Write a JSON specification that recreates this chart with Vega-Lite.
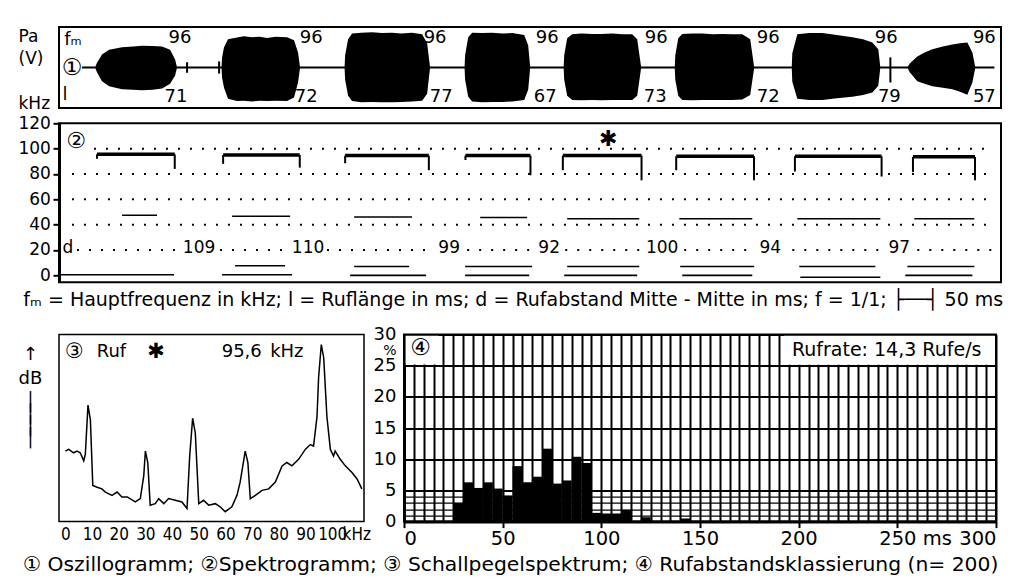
{
  "$schema": "https://vega.github.io/schema/vega-lite/v6.json",
  "background": "white",
  "padding": {"left": 16, "top": 26, "right": 5, "bottom": 5},
  "config": {
    "font": "DejaVu Sans",
    "view": {"stroke": "black", "strokeWidth": 2},
    "axis": {"labelColor": "black", "titleColor": "black", "domainColor": "black", "tickColor": "black", "titleFontWeight": "normal", "labelOverlap": false, "grid": false, "labelFont": "DejaVu Sans", "titleFont": "DejaVu Sans"},
    "title": {"color": "black", "fontWeight": "normal", "subtitleColor": "black", "font": "DejaVu Sans"},
    "text": {"color": "black", "font": "DejaVu Sans"}
  },
  "title": {"text": "① Oszillogramm; ②Spektrogramm; ③ Schallpegelspektrum; ④ Rufabstandsklassierung (n= 200)", "orient": "bottom", "anchor": "start", "fontSize": 20.3, "offset": 6, "dx": 6},
  "spacing": 0.3,
  "datasets": {
    "osc": [
      {"call": 1, "t": 31.6, "a": 0, "a2": 0}, {"call": 1, "t": 33.3, "a": 0.12, "a2": -0.12}, {"call": 1, "t": 35.1, "a": 0.2, "a2": -0.21}, {"call": 1, "t": 37.7, "a": 0.32, "a2": -0.34}, {"call": 1, "t": 43.9, "a": 0.44, "a2": -0.46}, {"call": 1, "t": 55.3, "a": 0.5, "a2": -0.54}, {"call": 1, "t": 65, "a": 0.52, "a2": -0.55}, {"call": 1, "t": 72.8, "a": 0.54, "a2": -0.56}, {"call": 1, "t": 82, "a": 0.53, "a2": -0.55}, {"call": 1, "t": 90.4, "a": 0.52, "a2": -0.52}, {"call": 1, "t": 97.4, "a": 0.44, "a2": -0.4}, {"call": 1, "t": 101.8, "a": 0.2, "a2": -0.2}, {"call": 1, "t": 103.5, "a": 0, "a2": 0},
      {"call": 2, "t": 142.5, "a": 0, "a2": 0}, {"call": 2, "t": 143, "a": 0.25, "a2": -0.25}, {"call": 2, "t": 144.7, "a": 0.5, "a2": -0.5}, {"call": 2, "t": 148.2, "a": 0.7, "a2": -0.77}, {"call": 2, "t": 156.1, "a": 0.74, "a2": -0.83}, {"call": 2, "t": 162, "a": 0.77, "a2": -0.82}, {"call": 2, "t": 169.3, "a": 0.75, "a2": -0.84}, {"call": 2, "t": 176, "a": 0.76, "a2": -0.82}, {"call": 2, "t": 182.5, "a": 0.73, "a2": -0.83}, {"call": 2, "t": 190, "a": 0.76, "a2": -0.82}, {"call": 2, "t": 200, "a": 0.75, "a2": -0.83}, {"call": 2, "t": 206.1, "a": 0.67, "a2": -0.74}, {"call": 2, "t": 209.6, "a": 0.37, "a2": -0.37}, {"call": 2, "t": 211.4, "a": 0, "a2": 0},
      {"call": 3, "t": 250.4, "a": 0, "a2": 0}, {"call": 3, "t": 250.9, "a": 0.3, "a2": -0.3}, {"call": 3, "t": 253.5, "a": 0.7, "a2": -0.7}, {"call": 3, "t": 257, "a": 0.84, "a2": -0.83}, {"call": 3, "t": 265, "a": 0.86, "a2": -0.86}, {"call": 3, "t": 274.6, "a": 0.87, "a2": -0.85}, {"call": 3, "t": 283, "a": 0.85, "a2": -0.86}, {"call": 3, "t": 292.1, "a": 0.86, "a2": -0.86}, {"call": 3, "t": 300, "a": 0.84, "a2": -0.85}, {"call": 3, "t": 309.6, "a": 0.86, "a2": -0.84}, {"call": 3, "t": 318.4, "a": 0.82, "a2": -0.82}, {"call": 3, "t": 322.8, "a": 0.6, "a2": -0.65}, {"call": 3, "t": 325.4, "a": 0, "a2": 0},
      {"call": 4, "t": 355.6, "a": 0, "a2": 0}, {"call": 4, "t": 356.1, "a": 0.3, "a2": -0.3}, {"call": 4, "t": 358.8, "a": 0.75, "a2": -0.72}, {"call": 4, "t": 362.3, "a": 0.86, "a2": -0.84}, {"call": 4, "t": 371, "a": 0.85, "a2": -0.86}, {"call": 4, "t": 379.8, "a": 0.86, "a2": -0.85}, {"call": 4, "t": 389, "a": 0.84, "a2": -0.85}, {"call": 4, "t": 397.4, "a": 0.85, "a2": -0.84}, {"call": 4, "t": 407.9, "a": 0.8, "a2": -0.8}, {"call": 4, "t": 411.4, "a": 0.55, "a2": -0.55}, {"call": 4, "t": 413.2, "a": 0, "a2": 0},
      {"call": 5, "t": 442.5, "a": 0, "a2": 0}, {"call": 5, "t": 443, "a": 0.3, "a2": -0.3}, {"call": 5, "t": 445.6, "a": 0.72, "a2": -0.7}, {"call": 5, "t": 450, "a": 0.82, "a2": -0.8}, {"call": 5, "t": 458, "a": 0.84, "a2": -0.81}, {"call": 5, "t": 467.5, "a": 0.83, "a2": -0.8}, {"call": 5, "t": 476, "a": 0.83, "a2": -0.81}, {"call": 5, "t": 485.1, "a": 0.84, "a2": -0.8}, {"call": 5, "t": 494, "a": 0.82, "a2": -0.8}, {"call": 5, "t": 502.6, "a": 0.82, "a2": -0.8}, {"call": 5, "t": 507, "a": 0.7, "a2": -0.7}, {"call": 5, "t": 510.5, "a": 0, "a2": 0},
      {"call": 6, "t": 539.9, "a": 0, "a2": 0}, {"call": 6, "t": 540.4, "a": 0.3, "a2": -0.3}, {"call": 6, "t": 543, "a": 0.72, "a2": -0.7}, {"call": 6, "t": 546.5, "a": 0.83, "a2": -0.8}, {"call": 6, "t": 555, "a": 0.84, "a2": -0.81}, {"call": 6, "t": 564, "a": 0.84, "a2": -0.8}, {"call": 6, "t": 573, "a": 0.82, "a2": -0.8}, {"call": 6, "t": 581.6, "a": 0.83, "a2": -0.8}, {"call": 6, "t": 590, "a": 0.82, "a2": -0.8}, {"call": 6, "t": 599.1, "a": 0.82, "a2": -0.79}, {"call": 6, "t": 606.1, "a": 0.7, "a2": -0.68}, {"call": 6, "t": 609.6, "a": 0, "a2": 0},
      {"call": 7, "t": 642.5, "a": 0, "a2": 0}, {"call": 7, "t": 643, "a": 0.35, "a2": -0.35}, {"call": 7, "t": 647.4, "a": 0.82, "a2": -0.77}, {"call": 7, "t": 658, "a": 0.85, "a2": -0.8}, {"call": 7, "t": 669.3, "a": 0.85, "a2": -0.8}, {"call": 7, "t": 682, "a": 0.8, "a2": -0.76}, {"call": 7, "t": 695.6, "a": 0.75, "a2": -0.72}, {"call": 7, "t": 705, "a": 0.7, "a2": -0.68}, {"call": 7, "t": 713.2, "a": 0.62, "a2": -0.62}, {"call": 7, "t": 718.4, "a": 0.45, "a2": -0.45}, {"call": 7, "t": 720.2, "a": 0, "a2": 0},
      {"call": 8, "t": 743.9, "a": 0, "a2": 0}, {"call": 8, "t": 746, "a": 0.1, "a2": -0.12}, {"call": 8, "t": 752.6, "a": 0.27, "a2": -0.34}, {"call": 8, "t": 759, "a": 0.37, "a2": -0.4}, {"call": 8, "t": 765.8, "a": 0.45, "a2": -0.46}, {"call": 8, "t": 775, "a": 0.52, "a2": -0.5}, {"call": 8, "t": 783.3, "a": 0.57, "a2": -0.54}, {"call": 8, "t": 790, "a": 0.6, "a2": -0.6}, {"call": 8, "t": 796.5, "a": 0.62, "a2": -0.67}, {"call": 8, "t": 800.9, "a": 0.37, "a2": -0.37}, {"call": 8, "t": 803.5, "a": 0, "a2": 0}
    ],
    "osc_base": [{"t": 20.2, "t2": 820.2, "a": 0}],
    "osc_blips": [{"t": 112.3, "a": 0.13, "a2": -0.13}, {"t": 140.4, "a": 0.15, "a2": -0.15}, {"t": 729, "a": 0.25, "a2": -0.37}],
    "osc_text": [
      {"t": 12.3, "a": 0.68, "text": "fₘ", "kind": "nr"}, {"t": 5.3, "a": -0.68, "text": "l", "kind": "nr"}, {"t": 11.4, "a": 0, "text": "①", "kind": "sym"},
      {"t": 106.1, "a": 0.73, "text": "96", "kind": "nr"}, {"t": 221.1, "a": 0.73, "text": "96", "kind": "nr"}, {"t": 329.8, "a": 0.73, "text": "96", "kind": "nr"}, {"t": 428.1, "a": 0.73, "text": "96", "kind": "nr"}, {"t": 523.7, "a": 0.73, "text": "96", "kind": "nr"}, {"t": 621.9, "a": 0.73, "text": "96", "kind": "nr"}, {"t": 725.4, "a": 0.73, "text": "96", "kind": "nr"}, {"t": 811.4, "a": 0.73, "text": "96", "kind": "nr"},
      {"t": 102.6, "a": -0.73, "text": "71", "kind": "nr"}, {"t": 216.7, "a": -0.73, "text": "72", "kind": "nr"}, {"t": 335.1, "a": -0.73, "text": "77", "kind": "nr"}, {"t": 426.3, "a": -0.73, "text": "67", "kind": "nr"}, {"t": 522.8, "a": -0.73, "text": "73", "kind": "nr"}, {"t": 621.9, "a": -0.73, "text": "72", "kind": "nr"}, {"t": 728.1, "a": -0.73, "text": "79", "kind": "nr"}, {"t": 811.4, "a": -0.73, "text": "57", "kind": "nr"}
    ],
    "spec_dots": [
      {"f": 100, "t": 30.7, "t2": 818.4}, {"f": 80, "t": 11.4, "t2": 818.4}, {"f": 60, "t": 11.4, "t2": 818.4}, {"f": 40, "t": 11.4, "t2": 818.4},
      {"f": 20, "t": 15.8, "t2": 103.5}, {"f": 20, "t": 141.2, "t2": 202.6}, {"f": 20, "t": 235, "t2": 325.4}, {"f": 20, "t": 357.9, "t2": 414.9}, {"f": 20, "t": 443.9, "t2": 511.4}, {"f": 20, "t": 548.2, "t2": 607.9}, {"f": 20, "t": 643, "t2": 720.2}, {"f": 20, "t": 752.6, "t2": 818.4}
    ],
    "spec_segs": [
      {"call": 1, "part": "Grundton", "t": 33.3, "t2": 101.5, "f": 95.5, "f2": 95.5}, {"call": 1, "part": "Haken", "t": 33.3, "t2": 33.3, "f": 95.5, "f2": 92}, {"call": 1, "part": "Haken", "t": 101.5, "t2": 101.5, "f": 95.5, "f2": 84}, {"call": 1, "part": "Oberton", "t": 55.3, "t2": 86, "f": 47.4, "f2": 47.4}, {"call": 1, "part": "tief", "t": 0, "t2": 100.9, "f": 0.5, "f2": 0.5},
      {"call": 2, "part": "Grundton", "t": 143.9, "t2": 211.1, "f": 95, "f2": 95}, {"call": 2, "part": "Haken", "t": 143.9, "t2": 143.9, "f": 95, "f2": 88}, {"call": 2, "part": "Haken", "t": 211.1, "t2": 211.1, "f": 95, "f2": 85}, {"call": 2, "part": "Oberton", "t": 151.8, "t2": 202.6, "f": 46.6, "f2": 46.6}, {"call": 2, "part": "tief", "t": 154.4, "t2": 198.2, "f": 7.6, "f2": 7.6}, {"call": 2, "part": "tief", "t": 143, "t2": 204.4, "f": 0.5, "f2": 0.5},
      {"call": 3, "part": "Grundton", "t": 250.9, "t2": 324.3, "f": 94.5, "f2": 94.5}, {"call": 3, "part": "Haken", "t": 250.9, "t2": 250.9, "f": 94.5, "f2": 88.5}, {"call": 3, "part": "Haken", "t": 324.3, "t2": 324.3, "f": 94.5, "f2": 83}, {"call": 3, "part": "Oberton", "t": 258.8, "t2": 309.6, "f": 46, "f2": 46}, {"call": 3, "part": "tief", "t": 258.8, "t2": 307, "f": 7, "f2": 7}, {"call": 3, "part": "tief", "t": 255.3, "t2": 321.9, "f": 0, "f2": 0},
      {"call": 4, "part": "Grundton", "t": 356.4, "t2": 413.4, "f": 94.5, "f2": 94.5}, {"call": 4, "part": "Haken", "t": 356.4, "t2": 356.4, "f": 94.5, "f2": 91}, {"call": 4, "part": "Haken", "t": 413.4, "t2": 413.4, "f": 94.5, "f2": 79}, {"call": 4, "part": "Oberton", "t": 369.3, "t2": 410.5, "f": 45.7, "f2": 45.7}, {"call": 4, "part": "tief", "t": 356.1, "t2": 414.9, "f": 7, "f2": 7}, {"call": 4, "part": "tief", "t": 356.1, "t2": 412.3, "f": 0, "f2": 0},
      {"call": 5, "part": "Grundton", "t": 441.8, "t2": 510.8, "f": 94.5, "f2": 94.5}, {"call": 5, "part": "Haken", "t": 441.8, "t2": 441.8, "f": 94.5, "f2": 83}, {"call": 5, "part": "Haken", "t": 510.8, "t2": 510.8, "f": 94.5, "f2": 75}, {"call": 5, "part": "Oberton", "t": 445.6, "t2": 508.8, "f": 44.7, "f2": 44.7}, {"call": 5, "part": "tief", "t": 445.6, "t2": 508.8, "f": 7, "f2": 7}, {"call": 5, "part": "tief", "t": 443, "t2": 507, "f": 0, "f2": 0},
      {"call": 6, "part": "Grundton", "t": 541.2, "t2": 609.4, "f": 94, "f2": 94}, {"call": 6, "part": "Haken", "t": 541.2, "t2": 541.2, "f": 94, "f2": 83}, {"call": 6, "part": "Haken", "t": 609.4, "t2": 609.4, "f": 94, "f2": 75}, {"call": 6, "part": "Oberton", "t": 543.9, "t2": 607.9, "f": 44.7, "f2": 44.7}, {"call": 6, "part": "tief", "t": 544.7, "t2": 609.6, "f": 7, "f2": 7}, {"call": 6, "part": "tief", "t": 546.5, "t2": 607.9, "f": 0, "f2": 0},
      {"call": 7, "part": "Grundton", "t": 645.3, "t2": 721.3, "f": 94, "f2": 94}, {"call": 7, "part": "Haken", "t": 645.3, "t2": 645.3, "f": 94, "f2": 82}, {"call": 7, "part": "Haken", "t": 721.3, "t2": 721.3, "f": 94, "f2": 78}, {"call": 7, "part": "Oberton", "t": 647.4, "t2": 720.2, "f": 44.7, "f2": 44.7}, {"call": 7, "part": "tief", "t": 649.1, "t2": 715.8, "f": 7, "f2": 7}, {"call": 7, "part": "tief", "t": 650, "t2": 720.2, "f": -1.5, "f2": -1.5},
      {"call": 8, "part": "Grundton", "t": 748.8, "t2": 803.2, "f": 93.5, "f2": 93.5}, {"call": 8, "part": "Haken", "t": 748.8, "t2": 748.8, "f": 93.5, "f2": 81.5}, {"call": 8, "part": "Haken", "t": 803.2, "t2": 803.2, "f": 93.5, "f2": 75}, {"call": 8, "part": "Oberton", "t": 750, "t2": 802.6, "f": 44.7, "f2": 44.7}, {"call": 8, "part": "tief", "t": 743.9, "t2": 802.6, "f": 7, "f2": 7}, {"call": 8, "part": "tief", "t": 742.1, "t2": 800.9, "f": 0, "f2": 0}
    ],
    "spec_text": [
      {"t": 14.9, "f": 105.8, "text": "②", "kind": "sym"}, {"t": 481.6, "f": 107.3, "text": "✱", "kind": "sym"},
      {"t": 7.9, "f": 21.3, "text": "d", "kind": "nr"}, {"t": 122.8, "f": 21.3, "text": "109", "kind": "nr"}, {"t": 218.4, "f": 21.3, "text": "110", "kind": "nr"}, {"t": 342.1, "f": 21.3, "text": "99", "kind": "nr"}, {"t": 429.8, "f": 21.3, "text": "92", "kind": "nr"}, {"t": 528.9, "f": 21.3, "text": "100", "kind": "nr"}, {"t": 623.7, "f": 21.3, "text": "94", "kind": "nr"}, {"t": 736.8, "f": 21.3, "text": "97", "kind": "nr"}
    ],
    "spectrum": [
      {"f": 0, "db": 37.7}, {"f": 1.3, "db": 38.6}, {"f": 3.1, "db": 36.8}, {"f": 4.4, "db": 37.7}, {"f": 5.6, "db": 36.8}, {"f": 6.9, "db": 32.5}, {"f": 7.5, "db": 36}, {"f": 8.5, "db": 62.3}, {"f": 9.4, "db": 54.4}, {"f": 10.3, "db": 19.3}, {"f": 11.9, "db": 18.4}, {"f": 13.7, "db": 17.5}, {"f": 15, "db": 15.8}, {"f": 17.5, "db": 14}, {"f": 19.4, "db": 15.8}, {"f": 21.2, "db": 13.2}, {"f": 23.2, "db": 13.2}, {"f": 26.2, "db": 10.5}, {"f": 28.1, "db": 12.3}, {"f": 29.4, "db": 24.6}, {"f": 30, "db": 37.7}, {"f": 30.9, "db": 31.6}, {"f": 31.8, "db": 8.8}, {"f": 33.7, "db": 9.6}, {"f": 35, "db": 12.3}, {"f": 36.9, "db": 9.6}, {"f": 38.7, "db": 12.3}, {"f": 41.2, "db": 11.4}, {"f": 43.7, "db": 10.5}, {"f": 45.6, "db": 7}, {"f": 46.6, "db": 35.1}, {"f": 47.7, "db": 55.3}, {"f": 48.7, "db": 47.4}, {"f": 50, "db": 9.6}, {"f": 51.8, "db": 11.4}, {"f": 53.7, "db": 8.8}, {"f": 56.2, "db": 9.6}, {"f": 58, "db": 7.9}, {"f": 59.9, "db": 5.3}, {"f": 62.4, "db": 7.9}, {"f": 64.3, "db": 14}, {"f": 65.5, "db": 21.1}, {"f": 67.4, "db": 37.7}, {"f": 68.4, "db": 31.6}, {"f": 69.3, "db": 12.3}, {"f": 71.2, "db": 14}, {"f": 73.7, "db": 16.7}, {"f": 76.2, "db": 17.5}, {"f": 78.7, "db": 21.1}, {"f": 81.2, "db": 29.8}, {"f": 83, "db": 31.6}, {"f": 84.9, "db": 29.8}, {"f": 87.4, "db": 33.3}, {"f": 89.9, "db": 38.6}, {"f": 91.8, "db": 41.2}, {"f": 93, "db": 40.4}, {"f": 94.3, "db": 56.2}, {"f": 94.9, "db": 77.2}, {"f": 95.9, "db": 94.7}, {"f": 96.8, "db": 87.7}, {"f": 98, "db": 56.2}, {"f": 99.3, "db": 38.6}, {"f": 100.5, "db": 35.1}, {"f": 101.1, "db": 37.7}, {"f": 103, "db": 33.3}, {"f": 104.9, "db": 29.8}, {"f": 107.4, "db": 26.3}, {"f": 109.3, "db": 22.8}, {"f": 111.1, "db": 17.5}
    ],
    "spectrum_text": [
      {"f": 3.4, "db": 90.5, "text": "③", "kind": "sym"}, {"f": 17.3, "db": 90.5, "text": "Ruf", "kind": "nr"}, {"f": 34, "db": 90.5, "text": "✱", "kind": "sym"}, {"f": 66.1, "db": 90.5, "text": "95,6", "kind": "nr"}, {"f": 83, "db": 90.5, "text": "kHz", "kind": "nr"}
    ],
    "hist": [
      {"t": 25, "t2": 30, "p": 3.0}, {"t": 30, "t2": 35, "p": 6.3}, {"t": 35, "t2": 40, "p": 5.4}, {"t": 40, "t2": 45, "p": 6.3}, {"t": 45, "t2": 50, "p": 5.3}, {"t": 50, "t2": 55, "p": 4.2}, {"t": 55, "t2": 60, "p": 8.9}, {"t": 60, "t2": 65, "p": 6.3}, {"t": 65, "t2": 70, "p": 7.2}, {"t": 70, "t2": 75, "p": 11.7}, {"t": 75, "t2": 80, "p": 6.1}, {"t": 80, "t2": 85, "p": 6.6}, {"t": 85, "t2": 90, "p": 10.4}, {"t": 90, "t2": 95, "p": 9.4}, {"t": 95, "t2": 100, "p": 1.4}, {"t": 100, "t2": 105, "p": 1.3}, {"t": 105, "t2": 110, "p": 1.3}, {"t": 110, "t2": 115, "p": 1.9}, {"t": 120, "t2": 125, "p": 0.7}, {"t": 140, "t2": 145, "p": 0.5}
    ],
    "hist_boxes": [{"t": 0.8, "t2": 17.5, "p": 25.2, "p2": 29.8}, {"t": 192.5, "t2": 299.2, "p": 25.15, "p2": 29.8}],
    "hist_text": [{"t": 8.4, "p": 27.9, "text": "④", "kind": "sym"}, {"t": 244.6, "p": 27.5, "text": "Rufrate: 14,3 Rufe/s", "kind": "nr"}]
  },
  "vconcat": [
    {
      "width": 942, "height": 81,
      "encoding": {
        "x": {"field": "t", "type": "quantitative", "scale": {"domain": [0, 826]}, "axis": null},
        "y": {"field": "a", "type": "quantitative", "scale": {"domain": [-1, 1]}, "axis": {"title": ["Pa", "(V)", "⠀", "kHz"], "titleAngle": 0, "titleAlign": "left", "titleBaseline": "top", "titleX": -41, "titleY": 1, "titleLineHeight": 22.4, "titleFontSize": 17, "labels": false, "ticks": false, "domain": false}}
      },
      "layer": [
        {"data": {"name": "osc"}, "mark": {"type": "area", "color": "black"}, "encoding": {"y2": {"field": "a2"}, "detail": {"field": "call"}}},
        {"data": {"name": "osc_base"}, "mark": {"type": "rule", "strokeWidth": 2, "color": "black"}, "encoding": {"x2": {"field": "t2"}}},
        {"data": {"name": "osc_blips"}, "mark": {"type": "rule", "strokeWidth": 2, "color": "black"}, "encoding": {"y2": {"field": "a2"}}},
        {"data": {"name": "osc_text"}, "transform": [{"filter": "datum.kind == 'nr'"}], "mark": {"type": "text", "fontSize": 18}, "encoding": {"text": {"field": "text"}}},
        {"data": {"name": "osc_text"}, "transform": [{"filter": "datum.kind == 'sym'"}], "mark": {"type": "text", "fontSize": 23}, "encoding": {"text": {"field": "text"}}}
      ]
    },
    {
      "width": 942, "height": 159,
      "encoding": {
        "x": {"field": "t", "type": "quantitative", "scale": {"domain": [0, 826]}, "axis": null},
        "y": {"field": "f", "type": "quantitative", "scale": {"domain": [-5.5, 120]}, "axis": {"values": [0, 20, 40, 60, 80, 100, 120], "title": null, "labelFontSize": 17, "tickSize": 6, "tickWidth": 2, "domainWidth": 3, "labelPadding": 2.6}}
      },
      "layer": [
        {"data": {"name": "spec_dots"}, "mark": {"type": "rule", "strokeDash": [2, 10], "strokeWidth": 2, "color": "black"}, "encoding": {"x2": {"field": "t2"}}},
        {"data": {"name": "spec_segs"}, "transform": [{"filter": "datum.part == 'Grundton'"}], "mark": {"type": "rule", "strokeWidth": 3.5, "color": "black"}, "encoding": {"x2": {"field": "t2"}, "y2": {"field": "f2"}}},
        {"data": {"name": "spec_segs"}, "transform": [{"filter": "datum.part == 'Haken'"}], "mark": {"type": "rule", "strokeWidth": 2, "color": "black"}, "encoding": {"x2": {"field": "t2"}, "y2": {"field": "f2"}}},
        {"data": {"name": "spec_segs"}, "transform": [{"filter": "datum.part == 'Oberton' || datum.part == 'tief'"}], "mark": {"type": "rule", "strokeWidth": 1.6, "color": "black"}, "encoding": {"x2": {"field": "t2"}, "y2": {"field": "f2"}}},
        {"data": {"name": "spec_text"}, "transform": [{"filter": "datum.kind == 'nr'"}], "mark": {"type": "text", "fontSize": 17}, "encoding": {"text": {"field": "text"}}},
        {"data": {"name": "spec_text"}, "transform": [{"filter": "datum.kind == 'sym'"}], "mark": {"type": "text", "fontSize": 22}, "encoding": {"text": {"field": "text"}}}
      ]
    },
    {
      "title": {"text": "\u00a0", "fontSize": 5, "subtitle": "fₘ = Hauptfrequenz in kHz; l = Ruflänge in ms; d = Rufabstand Mitte - Mitte in ms; f = 1/1;  ├──┤ 50 ms", "subtitleFont": "DejaVu Sans", "subtitleFontSize": 19, "subtitlePadding": 0, "anchor": "start", "offset": 14.7, "dx": 6},
      "spacing": 0,
      "hconcat": [
        {
          "width": 305, "height": 187,
          "view": {"stroke": "black", "strokeWidth": 1.5},
          "encoding": {
            "x": {"field": "f", "type": "quantitative", "scale": {"domain": [-2.36, 111.9]}, "axis": {"values": [0, 10, 20, 30, 40, 50, 60, 70, 80, 90, 100, 109], "labelExpr": "datum.value == 109 ? 'kHz' : datum.label", "title": null, "ticks": false, "domain": false, "labelFontSize": 17, "labelFont": "Liberation Sans Narrow, DejaVu Sans Condensed", "labelPadding": 5}},
            "y": {"field": "db", "type": "quantitative", "scale": {"domain": [0, 100]}, "axis": {"title": ["↑", "⠀", "dB", "⠀", "│", "│", "│", "│"], "titleAngle": 0, "titleAlign": "center", "titleBaseline": "top", "titleX": -29, "titleY": 11, "titleLineHeight": 12, "titleFontSize": 18, "labels": false, "ticks": false, "domain": false}}
          },
          "layer": [
            {"data": {"name": "spectrum"}, "mark": {"type": "line", "color": "black", "strokeWidth": 1.5}},
            {"data": {"name": "spectrum_text"}, "transform": [{"filter": "datum.kind == 'nr'"}], "mark": {"type": "text", "fontSize": 18}, "encoding": {"text": {"field": "text"}}},
            {"data": {"name": "spectrum_text"}, "transform": [{"filter": "datum.kind == 'sym'"}], "mark": {"type": "text", "fontSize": 21}, "encoding": {"text": {"field": "text"}}}
          ]
        },
        {
          "width": 592, "height": 187,
          "encoding": {
            "x": {"field": "t", "type": "quantitative", "scale": {"domain": [0, 300]}, "axis": {"values": [0, 5, 10, 15, 20, 25, 30, 35, 40, 45, 50, 55, 60, 65, 70, 75, 80, 85, 90, 95, 100, 105, 110, 115, 120, 125, 130, 135, 140, 145, 150, 155, 160, 165, 170, 175, 180, 185, 190, 195, 200, 205, 210, 215, 220, 225, 230, 235, 240, 245, 250, 255, 260, 265, 270, 275, 280, 285, 290, 295, 300], "labelExpr": "datum.value == 270 ? 'ms' : (datum.value % 50 == 0 ? datum.label : '')", "title": null, "grid": true, "gridColor": "black", "gridWidth": 2, "gridOpacity": 1, "tickSize": 6, "tickWidth": 2, "tickOpacity": {"condition": {"test": "datum.value % 50 == 0", "value": 1}, "value": 0}, "domainWidth": 3, "labelFontSize": 19.5, "labelPadding": 2}},
            "y": {"field": "p", "type": "quantitative", "scale": {"domain": [0, 30]}, "axis": {"values": [0, 1, 2, 3, 4, 5, 10, 15, 20, 25, 27.5, 30], "labelExpr": "datum.value == 27.5 ? '%' : (datum.value % 5 == 0 ? datum.label : '')", "title": null, "grid": true, "gridColor": "black", "gridWidth": {"condition": {"test": "datum.value < 5", "value": 1.2}, "value": 2}, "gridOpacity": {"condition": {"test": "datum.value == 27.5", "value": 0}, "value": 1}, "ticks": false, "domainWidth": 3, "labelFontSize": {"condition": {"test": "datum.value == 27.5", "value": 14}, "value": 18}, "labelPadding": 8}}
          },
          "layer": [
            {"data": {"name": "hist"}, "mark": {"type": "rect", "color": "black"}, "encoding": {"x2": {"field": "t2"}, "y2": {"datum": 0}}},
            {"data": {"name": "hist_boxes"}, "mark": {"type": "rect", "color": "white", "opacity": 1}, "encoding": {"x2": {"field": "t2"}, "y2": {"field": "p2"}}},
            {"data": {"name": "hist_text"}, "transform": [{"filter": "datum.kind == 'nr'"}], "mark": {"type": "text", "fontSize": 19}, "encoding": {"text": {"field": "text"}}},
            {"data": {"name": "hist_text"}, "transform": [{"filter": "datum.kind == 'sym'"}], "mark": {"type": "text", "fontSize": 23}, "encoding": {"text": {"field": "text"}}}
          ]
        }
      ]
    }
  ]
}
